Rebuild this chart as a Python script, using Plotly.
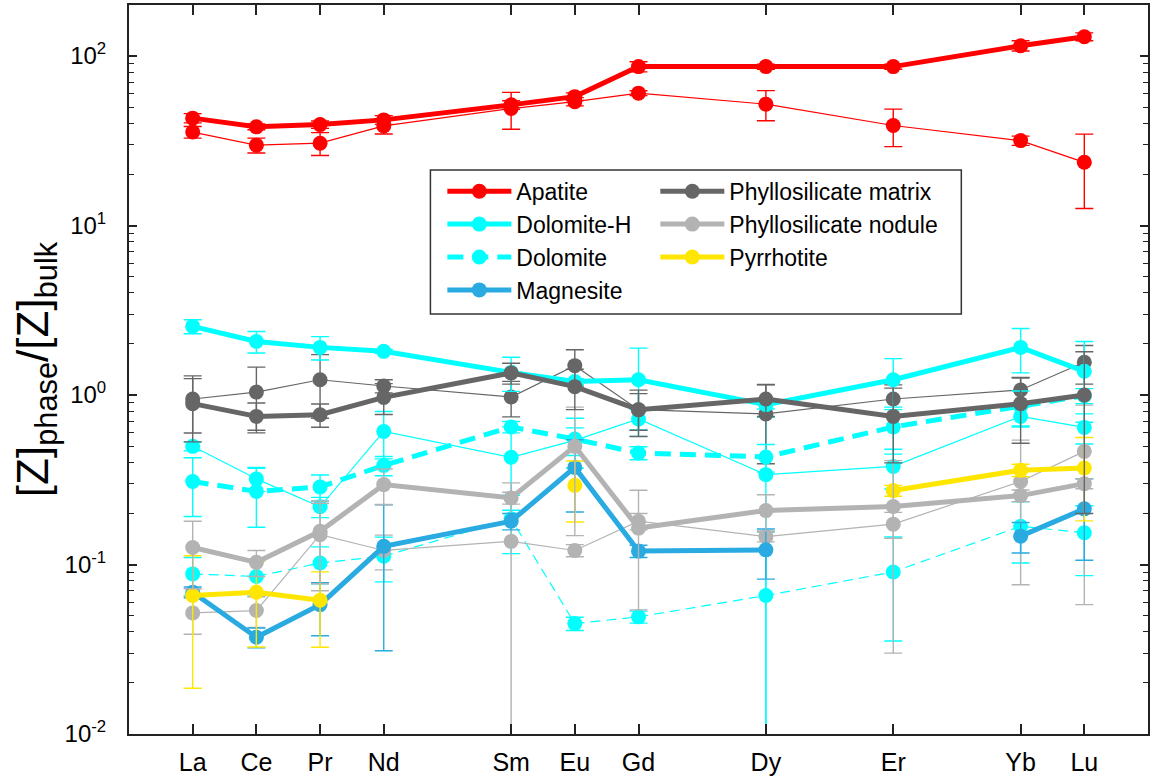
import plotly.graph_objects as go

# Rare earth elements and their atomic numbers (x positions)
elements = ["La", "Ce", "Pr", "Nd", "Sm", "Eu", "Gd", "Dy", "Er", "Yb", "Lu"]
atomic_number = [57, 58, 59, 60, 62, 63, 64, 66, 68, 70, 71]

# Partition ratios [Z]phase/[Z]bulk, sample 1 (thick lines, in legend)
apatite = [43.0, 38.2, 39.4, 42.0, 51.5, 57.6, 86.6, 86.6, 86.6, 115.0, 130.0]
apatite_err = [2.7, 1.5, 2.0, 2.5, 3.0, 3.0, 6.0, 3.0, 3.0, 8.0, 7.0]
dolomite_h = [2.54, 2.07, 1.91, 1.81, 1.36, 1.20, 1.23, 0.877, 1.23, 1.91, 1.38]
dolomite_h_err = [0.24, 0.30, 0.30, 0.05, 0.31, 0.05, 0.66, 0.05, 0.41, 0.56, 0.69]
dolomite = [0.309, 0.270, 0.287, 0.384, 0.648, 0.550, 0.455, 0.431, 0.648, 0.857, 0.99]
dolomite_err = [0.117, 0.104, 0.05, 0.05, 0.05, 0.18, 0.04, 0.08, 0.2, 0.2, 0.1]
magnesite = [0.0686, 0.0372, 0.058, 0.128, 0.180, 0.374, 0.120, 0.122, None, 0.147, 0.213]
magnesite_err = [0.005, 0.005, 0.02, 0.097, 0.02, 0.17, 0.01, 0.04, 0, 0.03, 0.107]
phyllo_matrix = [0.889, 0.748, 0.765, 0.968, 1.35, 1.12, 0.819, 0.947, 0.748, 0.889, 1.00]
phyllo_matrix_err = [0.36, 0.15, 0.12, 0.2, 0.19, 0.3, 0.25, 0.2, 0.35, 0.37, 0.8]
phyllo_nodule = [0.126, 0.103, 0.157, 0.296, 0.247, 0.498, 0.164, 0.208, 0.220, 0.255, 0.300]
phyllo_nodule_err = [0.054, 0.018, 0.08, 0.07, 0.02, 0.35, 0.11, 0.05, 0.19, 0.02, 0.02]
pyrrhotite = [0.0656, 0.0686, 0.0615, None, None, 0.293, None, None, 0.273, 0.360, 0.371]
pyrrhotite_err = [0.047, 0.036, 0.029, 0, 0, 0.115, 0, 0, 0.02, 0.03, 0.19]

# Sample 2 (thin lines, not in legend)
apatite_2 = [35.6, 29.8, 30.6, 38.7, 49.0, 53.8, 60.4, 52.0, 38.9, 31.7, 23.6]
apatite_2_err = [2.8, 3.0, 4.7, 4.0, 12.0, 3.0, 2.0, 10.5, 9.7, 2.0, 11.0]
dolomite_h_2 = [0.498, 0.320, 0.219, 0.610, 0.429, 0.54, 0.722, 0.339, 0.379, 0.748, 0.644]
dolomite_h_2_err = [0.03, 0.05, 0.03, 0.19, 0.22, 0.1, 0.1, 0.4, 0.1, 0.1, 0.13]
dolomite_2 = [0.088, 0.085, 0.102, 0.112, 0.186, 0.0448, 0.0491, 0.0656, 0.0904, 0.168, 0.154]
dolomite_2_err = [0.022, 0.02, 0.025, 0.033, 0.07, 0.004, 0.004, 0.09, 0.055, 0.066, 0.068]
phyllo_matrix_2 = [0.947, 1.04, 1.23, 1.13, 0.973, 1.49, 0.819, 0.773, 0.947, 1.07, 1.56]
phyllo_matrix_2_err = [0.35, 0.42, 0.5, 0.1, 0.23, 0.36, 0.2, 0.38, 0.2, 0.2, 0.4]
phyllo_nodule_2 = [0.0518, 0.0535, 0.150, 0.121, 0.137, 0.121, 0.180, 0.146, 0.173, 0.309, 0.465]
phyllo_nodule_2_err = [0.013, 0.011, 0.08, 0.028, 0.166, 0.01, 0.02, 0.01, 0.03, 0.233, 0.407]

ytick_vals = [0.01, 0.1, 1, 10, 100]
ytick_text = ["10<sup>-2</sup>", "10<sup>-1</sup>", "10<sup>0</sup>", "10<sup>1</sup>", "10<sup>2</sup>"]

RED = "#ff0000"
CYAN = "#00ffff"
BLUE = "#29abe2"
DARK = "#666666"
LIGHT = "#b3b3b3"
YELLOW = "#ffe600"

fig = go.Figure()


def add(y, err, color, name, width, dash="solid", legend=None, rank=None):
    fig.add_trace(go.Scatter(
        x=atomic_number, y=y, name=name, mode="lines+markers",
        line=dict(color=color, width=width, dash=dash),
        marker=dict(color=color, size=15),
        error_y=dict(type="data", array=err, symmetric=True, color=color,
                     thickness=1.4, width=9),
        showlegend=legend is not None,
        legend=legend if legend else "legend",
        legendrank=rank if rank else 1000,
        connectgaps=False,
    ))


# thin series
add(apatite_2, apatite_2_err, RED, "Apatite 2", 1.2)
add(dolomite_h_2, dolomite_h_2_err, CYAN, "Dolomite-H 2", 1.2)
add(dolomite_2, dolomite_2_err, CYAN, "Dolomite 2", 1.2, dash="10px,6px")
add(phyllo_matrix_2, phyllo_matrix_2_err, DARK, "Phyllosilicate matrix 2", 1.2)
add(phyllo_nodule_2, phyllo_nodule_2_err, LIGHT, "Phyllosilicate nodule 2", 1.2)

# thick series
add(dolomite, dolomite_err, CYAN, "Dolomite", 5, dash="16px,9px", legend="legend", rank=3)
add(dolomite_h, dolomite_h_err, CYAN, "Dolomite-H", 5, legend="legend", rank=2)
add(magnesite, magnesite_err, BLUE, "Magnesite", 5, legend="legend", rank=4)
add(pyrrhotite, pyrrhotite_err, YELLOW, "Pyrrhotite", 5, legend="legend2", rank=3)
add(phyllo_nodule, phyllo_nodule_err, LIGHT, "Phyllosilicate nodule", 5, legend="legend2", rank=2)
add(phyllo_matrix, phyllo_matrix_err, DARK, "Phyllosilicate matrix", 5, legend="legend2", rank=1)
add(apatite, apatite_err, RED, "Apatite", 5, legend="legend", rank=1)

AXIS = "#222222"
FONT = "Liberation Sans, Arial, sans-serif"

legend_common = dict(
    font=dict(family=FONT, size=23, color="black"),
    bgcolor="rgba(255,255,255,0)", borderwidth=0,
    itemwidth=64, xanchor="left", yanchor="top", traceorder="normal",
    itemclick=False, itemdoubleclick=False,
)

fig.update_layout(
    width=1152, height=780,
    margin=dict(l=129, r=2, t=5, b=46),
    paper_bgcolor="white", plot_bgcolor="white",
    font=dict(family=FONT, color="black"),
    xaxis=dict(
        range=[56, 72], tickvals=atomic_number, ticktext=elements,
        ticks="inside", ticklen=10, tickwidth=1.5, tickcolor=AXIS,
        showline=True, linecolor=AXIS, linewidth=2, mirror="ticks",
        showgrid=False, zeroline=False,
        tickfont=dict(size=25, family=FONT, color="black"),
        ticklabelstandoff=5,
    ),
    yaxis=dict(
        type="log", range=[-2, 2.301],
        tickvals=ytick_vals, ticktext=ytick_text,
        ticks="inside", ticklen=8, tickwidth=1.5, tickcolor=AXIS,
        minor=dict(ticks="inside", ticklen=5, tickwidth=1.2, tickcolor=AXIS,
                   dtick="D1", showgrid=False),
        showline=True, linecolor=AXIS, linewidth=2, mirror="ticks",
        showgrid=False, zeroline=False,
        tickfont=dict(size=24, family=FONT, color="black"),
        ticklabelstandoff=16,
        title=dict(text="[Z]<sub>phase</sub>/[Z]<sub>bulk</sub>",
                   font=dict(size=44, family=FONT, color="black"), standoff=2),
    ),
    legend=dict(x=0.3075, y=0.774, **legend_common),
    legend2=dict(x=0.5165, y=0.774, **legend_common),
    shapes=[dict(type="rect", xref="paper", yref="paper",
                 x0=0.2958, x1=0.8168, y0=0.5761, y1=0.7737,
                 line=dict(color="#333333", width=1.5),
                 fillcolor="white", layer="below")],
)

fig.write_html("out.html")
